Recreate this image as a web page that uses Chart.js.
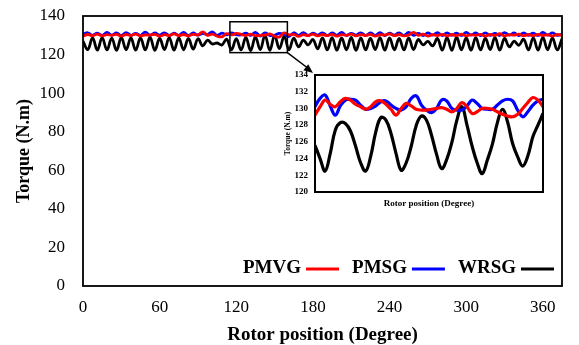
<!DOCTYPE html>
<html>
<head>
<meta charset="utf-8">
<script src="https://cdn.jsdelivr.net/npm/chart.js@4.4.1/dist/chart.umd.min.js"></script>
<style>
  body { margin: 0; background: #fff; }
  #wrap { position: relative; width: 579px; height: 345px; }
  #main { position: absolute; left: 0; top: 0; }
  #inset { position: absolute; left: 280px; top: 62px; }
</style>
</head>
<body>
<div id="wrap">
  <canvas id="main" width="579" height="345"></canvas>
  <canvas id="inset" width="270" height="150"></canvas>
</div>
<script>
// series
const seriesNames = ['PMVG', 'PMSG', 'WRSG'];
const seriesColors = ['#ff0000', '#0000ff', '#000000'];

// main plot, sampled every 3.75 degree (0 .. 375)
const mainAngles = Array.from({ length: 101 }, (_, i) => i * 3.75);

const pmvgMain = [
  129.6,130.4,129.8,130.6,129.7,130.3,130.0,130.5,129.6,130.4,
  129.9,130.6,129.7,130.2,130.1,130.5,129.6,130.3,129.9,130.7,
  129.8,130.4,129.7,130.5,130.2,131.8,130.0,130.6,129.5,129.2,
  130.8,130.2,131.0,130.5,129.9,130.6,129.8,130.0,130.1,130.7,
  129.6,129.1,131.2,130.2,130.5,129.4,130.3,129.8,130.6,129.7,
  130.4,129.8,130.5,129.6,130.3,130.0,130.6,129.7,130.4,129.9,
  130.5,129.6,130.3,130.1,130.7,129.8,130.4,129.7,130.2,131.5,
  130.0,130.6,129.6,130.3,129.9,130.5,129.7,130.4,129.8,130.6,
  129.7,130.3,130.0,130.5,129.6,130.4,129.9,130.8,129.7,130.3,
  130.1,130.6,129.8,130.4,129.7,130.5,129.9,130.3,129.6,130.4,
  129.8
];

const pmsgMain = [
  130.5,131.3,130.0,131.1,129.9,131.5,130.1,131.2,129.9,131.4,
  130.0,131.0,129.9,131.6,130.0,131.2,130.1,131.3,129.9,131.1,
  130.0,131.5,129.9,131.2,130.1,131.0,130.4,131.8,129.9,131.1,
  130.2,131.3,130.3,130.2,131.1,130.0,131.5,129.6,131.2,129.9,
  130.0,131.0,130.3,129.4,131.3,130.0,131.4,129.9,131.1,130.1,
  131.3,129.9,131.2,130.0,131.5,129.9,131.0,130.1,131.3,129.9,
  131.2,130.0,131.4,129.9,131.1,130.1,131.3,129.9,131.5,130.0,
  131.0,129.9,131.2,130.1,131.4,129.9,131.3,130.0,131.1,129.9,
  131.5,130.1,131.2,129.9,131.3,130.0,131.0,129.9,131.4,130.1,
  131.2,129.9,131.3,130.0,131.1,129.9,131.5,130.1,131.2,130.0,
  130.6
];

const wrsgMain = [
  127.0,122.6,128.6,122.3,128.8,122.4,128.5,122.2,128.9,122.5,
  128.6,122.3,128.7,122.4,129.0,122.2,128.5,122.6,128.8,122.3,
  128.6,122.5,128.4,122.8,128.2,124.5,127.5,125.5,126.0,125.0,
  128.0,122.5,128.3,122.4,128.9,122.1,129.2,122.6,130.0,122.2,
  129.8,123.1,129.4,122.5,128.5,124.0,127.5,125.0,127.8,123.0,
  128.6,122.4,128.8,122.3,128.6,122.5,128.9,122.2,128.7,122.4,
  128.5,122.6,128.8,122.3,128.6,122.5,128.4,122.4,128.7,122.6,
  127.8,125.0,126.8,124.5,128.3,122.3,128.8,122.2,129.0,122.5,
  128.6,122.3,128.8,122.4,128.5,122.6,128.9,122.3,128.4,124.0,
  127.0,124.8,128.0,122.4,128.7,122.3,128.9,122.5,128.6,122.4,
  128.2
];

// zoomed window, one sample per degree (115 .. 160)
const insetAngles = Array.from({ length: 46 }, (_, i) => 115 + i);

const pmvgInset = [
  129.2,130.2,131.0,130.5,130.2,130.8,131.2,131.0,130.5,130.2,
  129.9,130.2,130.8,130.9,130.5,129.9,129.2,130.0,130.6,130.3,
  129.9,129.8,129.8,129.9,130.0,130.1,129.9,129.6,130.0,130.7,
  130.2,129.4,129.6,130.0,130.0,129.9,129.6,129.3,129.1,129.0,
  129.3,130.0,130.7,131.3,131.0,130.2
];

const pmsgInset = [
  130.2,131.2,131.6,130.3,129.2,130.3,131.0,131.1,131.0,130.4,
  129.9,130.0,130.3,130.8,130.9,130.4,130.0,129.8,130.2,131.2,
  131.5,130.4,129.8,129.5,130.0,131.0,130.9,130.0,129.8,129.8,
  130.3,131.0,130.6,130.0,129.9,129.9,130.4,130.9,131.1,130.9,
  129.8,129.0,129.6,130.4,130.9,131.1
];

const wrsgInset = [
  125.6,124.0,122.5,124.6,127.4,128.3,128.2,127.3,125.5,123.5,
  122.5,124.3,127.2,128.9,128.6,127.0,124.6,122.6,123.5,125.5,
  128.0,129.1,128.6,126.8,124.5,122.8,123.9,125.9,128.6,130.2,
  128.0,125.5,123.5,122.2,123.8,125.7,128.3,129.9,128.4,125.8,
  124.2,123.1,124.3,126.6,128.0,129.4
];

const zoomBox = { yMin: 121, yMax: 137 };

const serif = "'Liberation Serif', 'Times New Roman', serif";

function toPoints(xs, ys) {
  return ys.map((y, i) => ({ x: xs[i], y: y }));
}

// fixed axis size, no extra label overflow padding
function fixSize(w, h) {
  return function (s) {
    if (w) s.width = w;
    if (h) s.height = h;
    s.paddingTop = 0; s.paddingBottom = 0;
    s.paddingLeft = 0; s.paddingRight = 0;
  };
}

const frame = {
  id: 'frame',
  afterDraw(chart, args, opts) {
    const { ctx, chartArea: a } = chart;
    ctx.save();
    ctx.strokeStyle = '#000';
    ctx.lineWidth = opts.width || 2;
    ctx.strokeRect(a.left, a.top, a.right - a.left, a.bottom - a.top);
    ctx.restore();
  }
};

const extras = {
  id: 'extras',
  afterDatasetsDraw(chart) {
    const { ctx, scales } = chart;
    const x1 = scales.x.getPixelForValue(insetAngles[0]);
    const x2 = scales.x.getPixelForValue(insetAngles[insetAngles.length - 1]);
    const y1 = scales.y.getPixelForValue(zoomBox.yMax);
    const y2 = scales.y.getPixelForValue(zoomBox.yMin);
    ctx.save();
    // zoom window
    ctx.strokeStyle = '#000';
    ctx.lineWidth = 1.5;
    ctx.strokeRect(x1, y1, x2 - x1, y2 - y1);
    // arrow to inset
    const tipX = 313, tipY = 73;
    ctx.lineWidth = 1.5;
    ctx.beginPath();
    ctx.moveTo(x2, y2);
    ctx.lineTo(tipX - 4, tipY - 4);
    ctx.stroke();
    const ang = Math.atan2(tipY - y2, tipX - x2);
    ctx.beginPath();
    ctx.moveTo(tipX, tipY);
    ctx.lineTo(tipX - 10 * Math.cos(ang - 0.4), tipY - 10 * Math.sin(ang - 0.4));
    ctx.lineTo(tipX - 10 * Math.cos(ang + 0.4), tipY - 10 * Math.sin(ang + 0.4));
    ctx.closePath();
    ctx.fillStyle = '#000';
    ctx.fill();

    // legend inside plot
    ctx.font = 'bold 19px ' + serif;
    ctx.textBaseline = 'middle';
    let x = 243;
    const y = 268;
    chart.data.datasets.forEach(ds => {
      ctx.fillStyle = '#000';
      ctx.fillText(ds.label, x, y);
      x += ctx.measureText(ds.label).width + 5;
      ctx.strokeStyle = ds.borderColor;
      ctx.lineWidth = 3;
      ctx.beginPath();
      ctx.moveTo(x, y + 1);
      ctx.lineTo(x + 33, y + 1);
      ctx.stroke();
      x += 33 + 13;
    });
    ctx.restore();
  }
};

const mainSeries = [pmvgMain, pmsgMain, wrsgMain];
const insetSeries = [pmvgInset, pmsgInset, wrsgInset];

new Chart(document.getElementById('main'), {
  type: 'line',
  data: {
    datasets: seriesNames.map((name, i) => ({
      label: name,
      data: toPoints(mainAngles, mainSeries[i]),
      borderColor: seriesColors[i],
      borderWidth: 2.8,
      pointRadius: 0,
      tension: 0.4,
      fill: false
    }))
  },
  options: {
    responsive: false,
    animation: false,
    layout: { padding: { left: 0, right: 17, top: 16, bottom: 0 } },
    plugins: { legend: { display: false }, tooltip: { enabled: false }, frame: { width: 1.8 } },
    scales: {
      x: {
        type: 'linear',
        min: 0,
        max: 375,
        grid: { display: false, drawTicks: false },
        border: { display: false },
        ticks: {
          stepSize: 60,
          includeBounds: false,
          maxRotation: 0,
          padding: 11,
          color: '#000',
          font: { family: serif, size: 17 }
        },
        title: {
          display: true,
          text: 'Rotor position (Degree)',
          color: '#000',
          font: { family: serif, size: 19, weight: 'bold', lineHeight: 1 },
          padding: { top: 0, bottom: 0 }
        },
        afterFit: fixSize(0, 59)
      },
      y: {
        min: 0,
        max: 140,
        grid: { display: false, drawTicks: false },
        border: { display: false },
        ticks: {
          stepSize: 20,
          padding: 18,
          color: '#000',
          font: { family: serif, size: 17 }
        },
        title: {
          display: true,
          text: 'Torque (N.m)',
          color: '#000',
          font: { family: serif, size: 18, weight: 'bold' },
          padding: { top: 14, bottom: 0 }
        },
        afterFit: fixSize(83, 0)
      }
    }
  },
  plugins: [frame, extras]
});

new Chart(document.getElementById('inset'), {
  type: 'line',
  data: {
    datasets: seriesNames.map((name, i) => ({
      label: name,
      data: toPoints(insetAngles, insetSeries[i]),
      borderColor: seriesColors[i],
      borderWidth: 3.2,
      pointRadius: 0,
      tension: 0.4,
      fill: false
    }))
  },
  options: {
    responsive: false,
    animation: false,
    layout: { padding: { left: 0, right: 7, top: 13, bottom: 0 } },
    plugins: { legend: { display: false }, tooltip: { enabled: false }, frame: { width: 2 } },
    scales: {
      x: {
        type: 'linear',
        min: insetAngles[0],
        max: insetAngles[insetAngles.length - 1],
        grid: { display: false, drawTicks: false },
        border: { display: false },
        ticks: { display: false },
        title: {
          display: true,
          text: 'Rotor position (Degree)',
          color: '#000',
          font: { family: serif, size: 9, weight: 'bold' },
          padding: { top: 0, bottom: 3 }
        },
        afterFit: fixSize(0, 20)
      },
      y: {
        min: 120,
        max: 134,
        grid: { display: false, drawTicks: false },
        border: { display: false },
        ticks: {
          stepSize: 2,
          padding: 7,
          color: '#000',
          font: { family: serif, size: 9, weight: 'bold' }
        },
        title: {
          display: true,
          text: 'Torque (N.m)',
          color: '#000',
          font: { family: serif, size: 7.5, weight: 'bold' },
          padding: { top: 4, bottom: 0 }
        },
        afterFit: fixSize(35, 0)
      }
    }
  },
  plugins: [frame]
});
</script>
</body>
</html>
